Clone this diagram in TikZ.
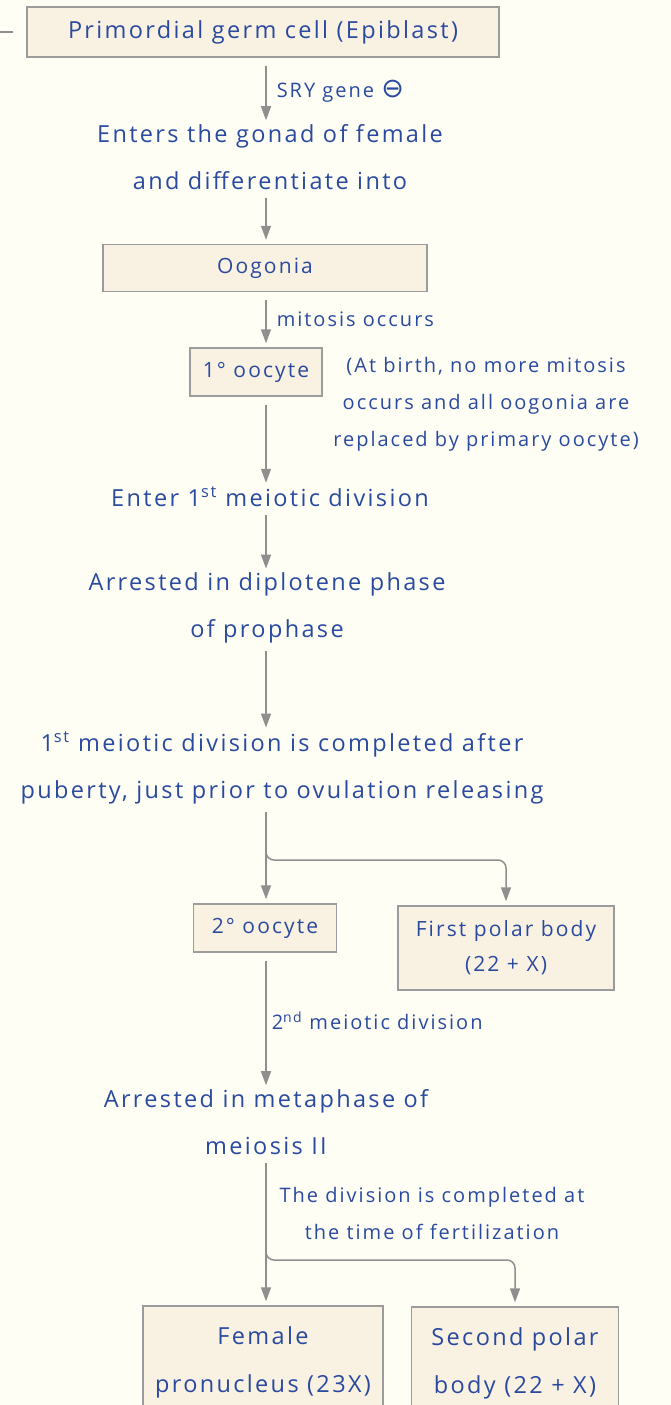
\documentclass[tikz,border=0pt]{standalone}
\usepackage{fontspec}
\setmainfont{Open Sans}[LetterSpace=10]
\newfontfamily\signfont{DejaVu Sans}
\usetikzlibrary{arrows.meta}
\definecolor{paper}{HTML}{FEFEF4}
\definecolor{inkblue}{HTML}{2A4AA0}
\definecolor{boxfill}{HTML}{F9F1E1}
\definecolor{boxline}{HTML}{9C9C9C}
\definecolor{flowgrey}{HTML}{8F8F8F}
\tikzset{
  cellbox/.style={rectangle, draw=boxline, fill=boxfill, line width=1.5pt, align=center,
                  text=inkblue, inner sep=0pt, font=\fontsize{21}{35}\selectfont},
  stage/.style={align=center, text=inkblue, inner sep=0pt, font=\fontsize{23.5}{47}\selectfont},
  note/.style={align=center, text=inkblue, inner sep=0pt, font=\fontsize{20}{37}\selectfont},
  fl/.style={-{Triangle[length=14pt,width=10pt]}, draw=flowgrey, line width=1.5pt,
             shorten <=8pt, shorten >=4pt},
  branch/.style={fl, rounded corners=8pt},
}
\begin{document}
\begin{tikzpicture}[x=1pt,y=-1pt]
\fill[paper] (0,0) rectangle (671,1405);
\useasboundingbox (0,0) rectangle (671,1405);
\coordinate (spine) at (266,0);

\node[cellbox, minimum width=472pt, minimum height=50pt, font=\fontsize{23.5}{35}\selectfont] (germ) at (263,32) {Primordial germ cell (Epiblast)};
\node[stage] (enters) at (270,157) {Enters the gonad of female\\and differentiate into};
\node[cellbox, minimum width=324pt, minimum height=47pt] (oogonia) at (265,268) {Oogonia};
\node[cellbox, minimum width=132pt, minimum height=48pt] (oocyteI) at (256,372) {1° oocyte};
\node[note] (birth) at (486,404) {(At birth, no more mitosis\\occurs and all oogonia are\\replaced by primary oocyte)};
\node[stage] (meiosisI) at (270,497) {Enter 1\textsuperscript{st} meiotic division};
\node[stage] (diplotene) at (267,608) {Arrested in diplotene phase\\of prophase};
\node[stage] (completed) at (282,768) {1\textsuperscript{st} meiotic division is completed after\\puberty, just prior to ovulation releasing};
\node[cellbox, minimum width=143pt, minimum height=48pt] (oocyteII) at (265,928) {2° oocyte};
\node[cellbox, minimum width=216pt, minimum height=84pt] (polarI) at (506,948) {First polar body\\(22 + X)};
\node[stage] (metaphase) at (266,1122) {Arrested in metaphase of\\meiosis II};
\node[cellbox, minimum width=240pt, minimum height=112pt, font=\fontsize{23.5}{48}\selectfont] (pronucleus) at (263,1362) {Female\\pronucleus (23X)};
\node[cellbox, minimum width=207pt, minimum height=112pt, font=\fontsize{23.5}{48}\selectfont] (polarII) at (515,1363) {Second polar\\body (22 + X)};

\coordinate (fork1) at (266,860);
\coordinate (fork2) at (266,1260);

\draw[draw=flowgrey, line width=1.5pt] (germ.west) ++(-13,0) -- ++(-14,0);

\draw[fl] (germ.south -| spine) -- (enters.north -| spine)
  node[midway, right=10pt, note] {SRY gene {\signfont\fontsize{27}{27}\selectfont ⊖}};
\draw[fl] (enters.south -| spine) -- (oogonia.north -| spine);
\draw[fl] (oogonia.south -| spine) -- (oocyteI.north -| spine)
  node[midway, right=10pt, note] {mitosis occurs};
\draw[fl] (oocyteI.south -| spine) -- (meiosisI.north -| spine);
\draw[fl] (meiosisI.south -| spine) -- (diplotene.north -| spine);
\draw[fl] (diplotene.south -| spine) -- (completed.north -| spine);
\draw[fl] (completed.south -| spine) -- (oocyteII.north -| spine);
\draw[branch, shorten <=0pt] (completed.south -| spine) ++(0,20) -- (fork1) -- (fork1 -| polarI) -- (polarI.north);
\draw[fl] (oocyteII.south -| spine) -- (metaphase.north -| spine)
  node[midway, right=5pt, note] {2\textsuperscript{nd} meiotic division};
\draw[fl] (metaphase.south -| spine) -- (pronucleus.north -| spine);
\draw[branch, shorten <=0pt] (fork2) ++(0,-20) -- (fork2) -- (fork2 -| polarII) -- (polarII.north);
\node[note] (fertnote) at (432,1213) {The division is completed at\\the time of fertilization};
\end{tikzpicture}
\end{document}
